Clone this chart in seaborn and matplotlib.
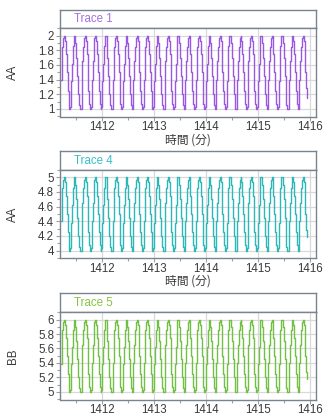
import numpy as np
import pandas as pd
import matplotlib
matplotlib.use("Agg")
import matplotlib.pyplot as plt
from matplotlib.ticker import MultipleLocator
import seaborn as sns

sns.set_theme(style="white")
plt.rcParams["font.family"] = ["Liberation Sans", "DejaVu Sans"]

# Sampling: one reading per second, starting at minute 1411.2
start_min = 1411.2
sample_step_min = 1.0 / 60.0

trace1 = [
    1.40, 1.65, 1.85, 1.97, 2.00, 1.93, 1.75, 1.50, 1.25, 1.07, 1.00, 1.03,
    1.38, 1.62, 1.86, 2.00, 2.00, 1.90, 1.70, 1.45, 1.20, 1.05, 1.00, 1.00,
    1.40, 1.65, 1.85, 1.97, 2.00, 1.93, 1.75, 1.50, 1.25, 1.07, 1.00, 1.03,
    1.40, 1.65, 1.85, 1.97, 2.00, 1.93, 1.75, 1.50, 1.25, 1.07, 1.00, 1.03,
    1.38, 1.62, 1.86, 2.00, 2.00, 1.90, 1.70, 1.45, 1.20, 1.05, 1.00, 1.00,
    1.40, 1.65, 1.85, 1.97, 2.00, 1.93, 1.75, 1.50, 1.25, 1.07, 1.00, 1.03,
    1.38, 1.62, 1.86, 2.00, 2.00, 1.90, 1.70, 1.45, 1.20, 1.05, 1.00, 1.00,
    1.40, 1.65, 1.85, 1.97, 2.00, 1.93, 1.75, 1.50, 1.25, 1.07, 1.00, 1.03,
    1.40, 1.65, 1.85, 1.97, 2.00, 1.93, 1.75, 1.50, 1.25, 1.07, 1.00, 1.03,
    1.38, 1.62, 1.86, 2.00, 2.00, 1.90, 1.70, 1.45, 1.20, 1.05, 1.00, 1.00,
    1.40, 1.65, 1.85, 1.97, 2.00, 1.93, 1.75, 1.50, 1.25, 1.07, 1.00, 1.03,
    1.38, 1.62, 1.86, 2.00, 2.00, 1.90, 1.70, 1.45, 1.20, 1.05, 1.00, 1.00,
    1.40, 1.65, 1.85, 1.97, 2.00, 1.93, 1.75, 1.50, 1.25, 1.07, 1.00, 1.03,
    1.40, 1.65, 1.85, 1.97, 2.00, 1.93, 1.75, 1.50, 1.25, 1.07, 1.00, 1.03,
    1.38, 1.62, 1.86, 2.00, 2.00, 1.90, 1.70, 1.45, 1.20, 1.05, 1.00, 1.00,
    1.40, 1.65, 1.85, 1.97, 2.00, 1.93, 1.75, 1.50, 1.25, 1.07, 1.00, 1.03,
    1.38, 1.62, 1.86, 2.00, 2.00, 1.90, 1.70, 1.45, 1.20, 1.05, 1.00, 1.00,
    1.40, 1.65, 1.85, 1.97, 2.00, 1.93, 1.75, 1.50, 1.25, 1.07, 1.00, 1.03,
    1.40, 1.65, 1.85, 1.97, 2.00, 1.93, 1.75, 1.50, 1.25, 1.07, 1.00, 1.03,
    1.38, 1.62, 1.86, 2.00, 2.00, 1.90, 1.70, 1.45, 1.20, 1.05, 1.00, 1.00,
    1.40, 1.65, 1.85, 1.97, 2.00, 1.93, 1.75, 1.50, 1.25, 1.07, 1.00, 1.03,
    1.38, 1.62, 1.86, 2.00, 2.00, 1.90, 1.70, 1.45, 1.20, 1.05, 1.00, 1.00,
    1.40, 1.65, 1.85, 1.97, 2.00, 1.93, 1.75, 1.50, 1.25, 1.07, 1.00, 1.03,
    1.40, 1.65, 1.85, 1.97, 2.00, 1.93, 1.75, 1.50, 1.28, 1.15,
]

trace4 = [
    4.40, 4.65, 4.85, 4.97, 5.00, 4.93, 4.75, 4.50, 4.25, 4.07, 4.00, 4.03,
    4.38, 4.62, 4.86, 5.00, 5.00, 4.90, 4.70, 4.45, 4.20, 4.05, 4.00, 4.00,
    4.40, 4.65, 4.85, 4.97, 5.00, 4.93, 4.75, 4.50, 4.25, 4.07, 4.00, 4.03,
    4.40, 4.65, 4.85, 4.97, 5.00, 4.93, 4.75, 4.50, 4.25, 4.07, 4.00, 4.03,
    4.38, 4.62, 4.86, 5.00, 5.00, 4.90, 4.70, 4.45, 4.20, 4.05, 4.00, 4.00,
    4.40, 4.65, 4.85, 4.97, 5.00, 4.93, 4.75, 4.50, 4.25, 4.07, 4.00, 4.03,
    4.38, 4.62, 4.86, 5.00, 5.00, 4.90, 4.70, 4.45, 4.20, 4.05, 4.00, 4.00,
    4.40, 4.65, 4.85, 4.97, 5.00, 4.93, 4.75, 4.50, 4.25, 4.07, 4.00, 4.03,
    4.40, 4.65, 4.85, 4.97, 5.00, 4.93, 4.75, 4.50, 4.25, 4.07, 4.00, 4.03,
    4.38, 4.62, 4.86, 5.00, 5.00, 4.90, 4.70, 4.45, 4.20, 4.05, 4.00, 4.00,
    4.40, 4.65, 4.85, 4.97, 5.00, 4.93, 4.75, 4.50, 4.25, 4.07, 4.00, 4.03,
    4.38, 4.62, 4.86, 5.00, 5.00, 4.90, 4.70, 4.45, 4.20, 4.05, 4.00, 4.00,
    4.40, 4.65, 4.85, 4.97, 5.00, 4.93, 4.75, 4.50, 4.25, 4.07, 4.00, 4.03,
    4.40, 4.65, 4.85, 4.97, 5.00, 4.93, 4.75, 4.50, 4.25, 4.07, 4.00, 4.03,
    4.38, 4.62, 4.86, 5.00, 5.00, 4.90, 4.70, 4.45, 4.20, 4.05, 4.00, 4.00,
    4.40, 4.65, 4.85, 4.97, 5.00, 4.93, 4.75, 4.50, 4.25, 4.07, 4.00, 4.03,
    4.38, 4.62, 4.86, 5.00, 5.00, 4.90, 4.70, 4.45, 4.20, 4.05, 4.00, 4.00,
    4.40, 4.65, 4.85, 4.97, 5.00, 4.93, 4.75, 4.50, 4.25, 4.07, 4.00, 4.03,
    4.40, 4.65, 4.85, 4.97, 5.00, 4.93, 4.75, 4.50, 4.25, 4.07, 4.00, 4.03,
    4.38, 4.62, 4.86, 5.00, 5.00, 4.90, 4.70, 4.45, 4.20, 4.05, 4.00, 4.00,
    4.40, 4.65, 4.85, 4.97, 5.00, 4.93, 4.75, 4.50, 4.25, 4.07, 4.00, 4.03,
    4.38, 4.62, 4.86, 5.00, 5.00, 4.90, 4.70, 4.45, 4.20, 4.05, 4.00, 4.00,
    4.40, 4.65, 4.85, 4.97, 5.00, 4.93, 4.75, 4.50, 4.25, 4.07, 4.00, 4.03,
    4.40, 4.65, 4.85, 4.97, 5.00, 4.93, 4.75, 4.50, 4.28, 4.18,
]

trace5 = [
    5.38, 5.65, 5.85, 5.97, 6.00, 5.93, 5.75, 5.50, 5.25, 5.07, 5.00, 5.03,
    5.38, 5.62, 5.86, 6.00, 6.00, 5.90, 5.70, 5.45, 5.20, 5.05, 5.00, 5.00,
    5.40, 5.65, 5.85, 5.97, 6.00, 5.93, 5.75, 5.50, 5.25, 5.07, 5.00, 5.03,
    5.40, 5.65, 5.85, 5.97, 6.00, 5.93, 5.75, 5.50, 5.25, 5.07, 5.00, 5.03,
    5.38, 5.62, 5.86, 6.00, 6.00, 5.90, 5.70, 5.45, 5.20, 5.05, 5.00, 5.00,
    5.40, 5.65, 5.85, 5.97, 6.00, 5.93, 5.75, 5.50, 5.25, 5.07, 5.00, 5.03,
    5.38, 5.62, 5.86, 6.00, 6.00, 5.90, 5.70, 5.45, 5.20, 5.05, 5.00, 5.00,
    5.40, 5.65, 5.85, 5.97, 6.00, 5.93, 5.75, 5.50, 5.25, 5.07, 5.00, 5.03,
    5.40, 5.65, 5.85, 5.97, 6.00, 5.93, 5.75, 5.50, 5.25, 5.07, 5.00, 5.03,
    5.38, 5.62, 5.86, 6.00, 6.00, 5.90, 5.70, 5.45, 5.20, 5.05, 5.00, 5.00,
    5.40, 5.65, 5.85, 5.97, 6.00, 5.93, 5.75, 5.50, 5.25, 5.07, 5.00, 5.03,
    5.38, 5.62, 5.86, 6.00, 6.00, 5.90, 5.70, 5.45, 5.20, 5.05, 5.00, 5.00,
    5.40, 5.65, 5.85, 5.97, 6.00, 5.93, 5.75, 5.50, 5.25, 5.07, 5.00, 5.03,
    5.40, 5.65, 5.85, 5.97, 6.00, 5.93, 5.75, 5.50, 5.25, 5.07, 5.00, 5.03,
    5.38, 5.62, 5.86, 6.00, 6.00, 5.90, 5.70, 5.45, 5.20, 5.05, 5.00, 5.00,
    5.40, 5.65, 5.85, 5.97, 6.00, 5.93, 5.75, 5.50, 5.25, 5.07, 5.00, 5.03,
    5.38, 5.62, 5.86, 6.00, 6.00, 5.90, 5.70, 5.45, 5.20, 5.05, 5.00, 5.00,
    5.40, 5.65, 5.85, 5.97, 6.00, 5.93, 5.75, 5.50, 5.25, 5.07, 5.00, 5.03,
    5.40, 5.65, 5.85, 5.97, 6.00, 5.93, 5.75, 5.50, 5.25, 5.07, 5.00, 5.03,
    5.38, 5.62, 5.86, 6.00, 6.00, 5.90, 5.70, 5.45, 5.20, 5.05, 5.00, 5.00,
    5.40, 5.65, 5.85, 5.97, 6.00, 5.93, 5.75, 5.50, 5.25, 5.07, 5.00, 5.03,
    5.38, 5.62, 5.86, 6.00, 6.00, 5.90, 5.70, 5.45, 5.20, 5.05, 5.00, 5.00,
    5.40, 5.65, 5.85, 5.97, 6.00, 5.93, 5.75, 5.50, 5.25, 5.07, 5.00, 5.03,
    5.40, 5.65, 5.85, 5.97, 6.00, 5.93, 5.75, 5.50, 5.28, 5.18,
]

trace_names = ["Trace 1", "Trace 4", "Trace 5"]
trace_units = ["AA", "AA", "BB"]
trace_values = [trace1, trace4, trace5]
trace_ylims = [(0.895, 2.1), (3.895, 5.1), (4.895, 6.1)]
line_colors = ["#9a58e0", "#2db7b7", "#72c043"]
title_colors = ["#a36fdc", "#38bfc6", "#86c440"]
x_ticks = [1412, 1413, 1414, 1415, 1416]
x_label = "時間 (分)"

# Panel geometry in pixels (header top, header bottom / plot top, plot bottom)
W, H = 325, 416
left_px, right_px = 60.5, 316.0
panels_px = [(10.3, 28.3, 116.7), (151.0, 170.0, 258.3), (293.3, 312.3, 399.5)]

frame_color = "#7a848e"
grid_color = "#d9d9d9"
text_color = "#3a3a3a"

fig = plt.figure(figsize=(W / 100, H / 100), dpi=100)
fig.patch.set_facecolor("white")

for i, (name, unit, vals) in enumerate(zip(trace_names, trace_units, trace_values)):
    htop, ptop, pbot = panels_px[i]
    x0 = left_px / W
    w = (right_px - left_px) / W

    # header strip carrying the trace name
    hax = fig.add_axes([x0, 1 - ptop / H, w, (ptop - htop) / H])
    hax.set_xticks([])
    hax.set_yticks([])
    for s in hax.spines.values():
        s.set_color(frame_color)
        s.set_linewidth(1.0)
    hax.text((74 - left_px) / (right_px - left_px), 0.5, name, transform=hax.transAxes,
             ha="left", va="center", fontsize=8.3, color=title_colors[i])

    # plot area
    ax = fig.add_axes([x0, 1 - pbot / H, w, (pbot - ptop) / H])
    df = pd.DataFrame({
        "t": start_min + np.arange(len(vals)) * sample_step_min,
        "v": vals,
    })
    sns.lineplot(data=df, x="t", y="v", ax=ax, color=line_colors[i],
                 linewidth=1.0, drawstyle="steps-post", estimator=None,
                 sort=False)

    ax.set_xlim(1411.195, 1416.12)
    ax.set_ylim(*trace_ylims[i])
    ax.set_xticks(x_ticks)
    ax.set_xticklabels([str(t) for t in x_ticks])
    ax.xaxis.set_minor_locator(MultipleLocator(0.5))
    lo = trace_ylims[i][0] + 0.105
    yt = [round(lo + 0.2 * k, 1) for k in range(6)]
    ax.set_yticks(yt)
    ax.set_yticklabels([f"{v:g}" for v in yt])
    ax.yaxis.set_minor_locator(MultipleLocator(0.1))
    ax.grid(True, which="major", color=grid_color, linewidth=0.9)
    ax.set_axisbelow(True)
    ax.tick_params(axis="both", which="major", length=3, width=0.8,
                   color="#a0a0a0", labelsize=8.3, labelcolor=text_color, pad=1.5,
                   direction="out", bottom=True, left=True)
    ax.tick_params(axis="x", which="major", pad=0.4)
    ax.tick_params(axis="both", which="minor", length=2, width=0.8,
                   color="#a0a0a0", direction="out", bottom=True, left=True)
    for s in ax.spines.values():
        s.set_color(frame_color)
        s.set_linewidth(1.0)

    ax.set_ylabel(unit, fontsize=8.3, color=text_color)
    ax.yaxis.set_label_coords(-(left_px - 19) / (right_px - left_px), 0.5)
    if i < 2:
        ax.set_xlabel(x_label, fontsize=8.5, color=text_color,
                      family=["Noto Sans CJK JP", "Liberation Sans"], labelpad=0)
    else:
        ax.set_xlabel("")

fig.savefig("out.png", dpi=100)
